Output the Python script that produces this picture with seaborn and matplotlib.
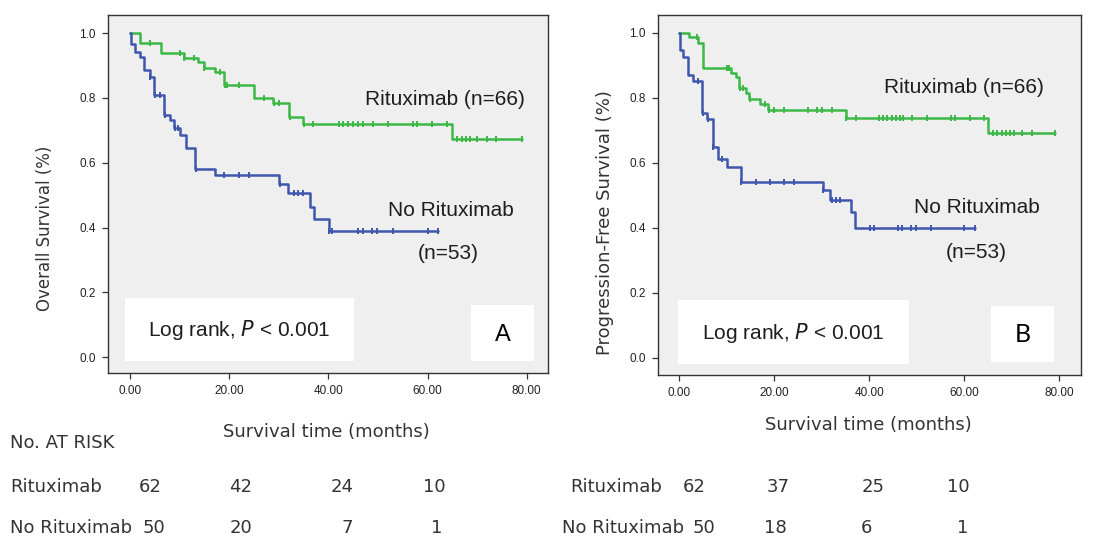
import numpy as np
import pandas as pd
import matplotlib
matplotlib.use("Agg")
import matplotlib.pyplot as plt
import seaborn as sns
from matplotlib.patches import Rectangle

sns.set_style("white")
plt.rcParams["font.family"] = ["Liberation Sans", "DejaVu Sans"]

GREEN = "#3cb846"
BLUE = "#3f56ad"
PANEL_BG = "#efefef"
TEXT = "#1e1e1e"

# ---- Overall survival (panel A) ----
os_rtx_time = [0, 2.1, 6.2, 10.9, 13.8, 15.0, 17.1, 19.0, 25.0, 28.9, 32.1, 34.8, 65.0]
os_rtx_surv = [1.0, 0.970, 0.940, 0.924, 0.910, 0.893, 0.879, 0.840, 0.800, 0.783, 0.740, 0.720, 0.672]
os_rtx_cens = [4.0, 10.1, 10.9, 13.0, 15.0, 18.1, 19.2, 19.6, 22.0, 27.0, 29.0, 30.1, 32.2, 35.0,
               37.0, 42.1, 43.0, 44.0, 45.0, 46.0, 47.0, 49.1, 52.1, 57.1, 57.9, 61.0, 64.0, 66.0,
               66.9, 67.7, 68.5, 69.9, 71.9, 73.9, 79.1]

os_norx_time = [0, 0.15, 1.0, 2.0, 2.9, 4.0, 4.8, 6.9, 8.1, 8.9, 10.1, 11.2, 13.2, 17.1, 30.1,
                31.9, 36.2, 37.2, 40.1]
os_norx_surv = [1.0, 0.965, 0.942, 0.925, 0.886, 0.865, 0.809, 0.747, 0.731, 0.708, 0.685, 0.646,
                0.580, 0.562, 0.534, 0.507, 0.464, 0.426, 0.390]
os_norx_cens = [4.1, 5.0, 6.0, 7.0, 9.0, 9.6, 13.3, 19.0, 22.0, 24.0, 30.2, 33.1, 33.9, 34.9,
                40.2, 40.8, 46.0, 46.9, 48.9, 49.9, 53.1, 60.0, 62.2]

# ---- Progression-free survival (panel B) ----
pfs_rtx_time = [0, 2.1, 4.0, 5.1, 10.9, 11.9, 12.6, 14.0, 14.7, 17.0, 18.7, 35.1, 65.1]
pfs_rtx_surv = [1.0, 0.986, 0.969, 0.892, 0.877, 0.863, 0.829, 0.814, 0.796, 0.781, 0.762, 0.738, 0.690]
pfs_rtx_cens = [3.8, 10.0, 10.5, 12.7, 13.5, 14.8, 18.0, 18.9, 19.9, 22.0, 27.2, 29.1, 30.0, 32.1,
                35.2, 37.2, 42.1, 43.0, 43.8, 44.8, 45.6, 46.5, 47.2, 49.1, 52.1, 57.2, 58.1, 61.2,
                64.2, 66.0, 67.0, 67.9, 68.8, 69.6, 70.5, 72.2, 74.2, 79.2]

pfs_norx_time = [0, 0.1, 0.8, 1.8, 2.8, 4.7, 5.9, 7.0, 8.1, 10.1, 12.9, 30.2, 31.7, 36.1, 37.1]
pfs_norx_surv = [1.0, 0.945, 0.924, 0.868, 0.851, 0.752, 0.734, 0.649, 0.610, 0.588, 0.542, 0.516,
                 0.485, 0.447, 0.398]
pfs_norx_cens = [4.0, 5.1, 6.1, 7.1, 9.1, 13.0, 16.1, 19.1, 22.0, 24.1, 30.3, 32.1, 33.0, 33.8,
                 40.1, 41.0, 46.1, 47.0, 48.9, 49.8, 53.1, 59.9, 62.2]

# ---- Axis ticks ----
x_ticks = [0, 20, 40, 60, 80]
x_tick_labels = ["0.00", "20.00", "40.00", "60.00", "80.00"]
y_ticks = [0.0, 0.2, 0.4, 0.6, 0.8, 1.0]
y_tick_labels = ["0.0", "0.2", "0.4", "0.6", "0.8", "1.0"]

# ---- Numbers at risk ----
risk_groups = ["Rituximab", "No Rituximab"]
risk_os_rtx = [62, 42, 24, 10]
risk_os_norx = [50, 20, 7, 1]
risk_pfs_rtx = [62, 37, 25, 10]
risk_pfs_norx = [50, 18, 6, 1]

W, H = 1113, 540
fig = plt.figure(figsize=(W / 100, H / 100), dpi=100)
fig.patch.set_facecolor("white")


def fx(px):
    return px / W


def fy(py):
    return 1 - py / H


def step_value(times, surv, t):
    idx = np.searchsorted(np.asarray(times), np.asarray(t), side="right") - 1
    return np.asarray(surv)[idx]


def draw_curve(ax, times, surv, cens, color):
    t_end = max(cens[-1], times[-1])
    line = pd.DataFrame({"time": list(times) + [t_end], "surv": list(surv) + [surv[-1]]})
    sns.lineplot(data=line, x="time", y="surv", ax=ax, color=color, lw=1.8,
                 drawstyle="steps-post", estimator=None, sort=False)
    marks = pd.DataFrame({"time": cens, "surv": step_value(times, surv, cens)})
    sns.scatterplot(data=marks, x="time", y="surv", ax=ax, marker="|", s=24,
                    color=color, linewidth=1.4, zorder=3)


def style_axes(ax, xlim, ylim):
    ax.set_facecolor(PANEL_BG)
    ax.set_xlim(*xlim)
    ax.set_ylim(*ylim)
    ax.set_xticks(x_ticks)
    ax.set_xticklabels(x_tick_labels)
    ax.set_yticks(y_ticks)
    ax.set_yticklabels(y_tick_labels)
    ax.tick_params(axis="both", direction="out", length=4, width=0.9, color="#333333",
                   labelsize=8.5, labelcolor="#222222", pad=5, bottom=True, left=True)
    for sp in ax.spines.values():
        sp.set_color("#333333")
        sp.set_linewidth(1.0)
    ax.set_xlabel("")
    ax.set_ylabel("")


def box(ax, x0, y0, x1, y1):
    ax.add_patch(Rectangle((x0, y0), x1 - x0, y1 - y0, transform=ax.transAxes,
                           facecolor="white", edgecolor="none", zorder=4))


# Panel A: overall survival
axA = fig.add_axes([fx(108), fy(373), fx(548) - fx(108), fy(15) - fy(373)])
draw_curve(axA, os_rtx_time, os_rtx_surv, os_rtx_cens, GREEN)
draw_curve(axA, os_norx_time, os_norx_surv, os_norx_cens, BLUE)
style_axes(axA, (-4.44, 84.3), (-0.049, 1.056))
box(axA, 0.0386, 0.0335, 0.559, 0.2095)
axA.text(0.2988, 0.121, r"Log rank, $\mathit{P}$ < 0.001", transform=axA.transAxes,
         ha="center", va="center", fontsize=15, color=TEXT, zorder=5)
box(axA, 0.825, 0.0335, 0.968, 0.190)
axA.text(0.8965, 0.107, "A", transform=axA.transAxes, ha="center", va="center",
         fontsize=17, color="black", zorder=5)
axA.text(47.4, 0.796, "Rituximab (n=66)", ha="left", va="center", fontsize=15, color=TEXT)
axA.text(52.0, 0.454, "No Rituximab", ha="left", va="center", fontsize=15, color=TEXT)
axA.text(58.1, 0.321, "(n=53)", ha="left", va="center", fontsize=15, color=TEXT)

# Panel B: progression-free survival
axB = fig.add_axes([fx(658), fy(375), fx(1081) - fx(658), fy(15) - fy(375)])
draw_curve(axB, pfs_rtx_time, pfs_rtx_surv, pfs_rtx_cens, GREEN)
draw_curve(axB, pfs_norx_time, pfs_norx_surv, pfs_norx_cens, BLUE)
style_axes(axB, (-4.48, 84.6), (-0.053, 1.054))
box(axB, 0.0473, 0.0306, 0.5934, 0.2083)
axB.text(0.320, 0.118, r"Log rank, $\mathit{P}$ < 0.001", transform=axB.transAxes,
         ha="center", va="center", fontsize=15, color=TEXT, zorder=5)
box(axB, 0.787, 0.0361, 0.936, 0.1917)
axB.text(0.8615, 0.112, "B", transform=axB.transAxes, ha="center", va="center",
         fontsize=18, color="black", family=["Lato", "DejaVu Sans"], zorder=5)
axB.text(43.1, 0.830, "Rituximab (n=66)", ha="left", va="center", fontsize=15, color=TEXT)
axB.text(49.4, 0.461, "No Rituximab", ha="left", va="center", fontsize=15, color=TEXT)
axB.text(56.1, 0.325, "(n=53)", ha="left", va="center", fontsize=15, color=TEXT)

# Axis titles and the numbers-at-risk table
side_font = ["DejaVu Sans"]
side_kw = dict(fontsize=13, color="#333333", family=side_font, fontweight="normal")
fig.text(fx(45), fy(228), "Overall Survival (%)", rotation=90, ha="center", va="center",
         **{**side_kw, "fontsize": 12})
fig.text(fx(605), fy(223), "Progression-Free Survival (%)", rotation=90, ha="center", va="center",
         **side_kw)
fig.text(fx(326), fy(432), "Survival time (months)", ha="center", va="center", **side_kw)
fig.text(fx(868), fy(425), "Survival time (months)", ha="center", va="center", **side_kw)
fig.text(fx(10), fy(443), "No. AT RISK", ha="left", va="center", **side_kw)

row_y = [487, 528]
fig.text(fx(10), fy(row_y[0]), risk_groups[0], ha="left", va="center", **side_kw)
fig.text(fx(10), fy(row_y[1]), risk_groups[1], ha="left", va="center", **side_kw)
fig.text(fx(570), fy(row_y[0]), risk_groups[0], ha="left", va="center", **side_kw)
fig.text(fx(562), fy(row_y[1]), risk_groups[1], ha="left", va="center", **side_kw)

cols_os = [[150, 241, 342, 434], [154, 241, 347, 437]]
cols_pfs = [[694, 778, 873, 958], [704, 775, 866, 963]]
for r, vals in enumerate([risk_os_rtx, risk_os_norx]):
    for xp, v in zip(cols_os[r], vals):
        fig.text(fx(xp), fy(row_y[r]), str(v), ha="center", va="center", **side_kw)
for r, vals in enumerate([risk_pfs_rtx, risk_pfs_norx]):
    for xp, v in zip(cols_pfs[r], vals):
        fig.text(fx(xp), fy(row_y[r]), str(v), ha="center", va="center", **side_kw)

fig.savefig("out.png", dpi=100, facecolor="white")
